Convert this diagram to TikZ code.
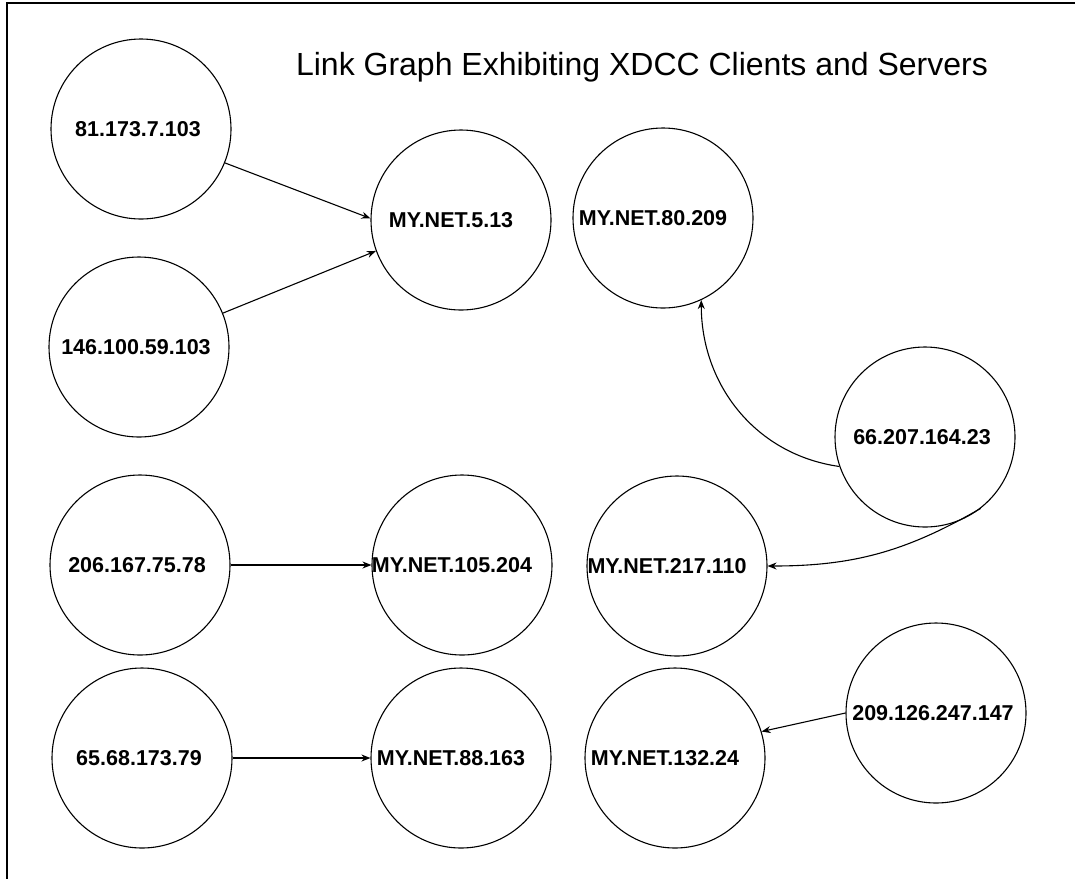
\documentclass[tikz,border=0pt]{standalone}
\usepackage{fontspec}
\setmainfont{Liberation Sans}
\usetikzlibrary{arrows.meta}

\begin{document}
\begin{tikzpicture}[x=1pt,y=1pt,
	host/.style={circle,draw,line width=1.1pt,minimum size=180pt,inner sep=0pt},
	netlbl/.style={font=\fontsize{21.5}{25}\selectfont\bfseries,inner sep=0pt,xshift=-10pt},
	iplbl/.style={font=\fontsize{21.5}{25}\selectfont\bfseries,inner sep=0pt,xshift=-3pt},
	link/.style={line width=1.1pt,-{Stealth[length=9pt,width=7pt]}}]
	\useasboundingbox (0,0) rectangle (1075,-879);
	\draw [line width=1.5pt] (1075,-3) -- (7,-3) -- (7,-879);
	\node [anchor=base,font=\fontsize{32}{38}\selectfont] (title) at (642,-75) {Link Graph Exhibiting XDCC Clients and Servers};
	% outside hosts
	\node [host,label={[iplbl]center:81.173.7.103}] (c81) at (141,-129) {};
	\node [host,label={[iplbl]center:146.100.59.103}] (c146) at (139,-347) {};
	\node [host,label={[iplbl]center:66.207.164.23}] (c66) at (925,-437) {};
	\node [host,label={[iplbl]center:206.167.75.78}] (c206) at (140,-565) {};
	\node [host,label={[iplbl]center:65.68.173.79}] (c65) at (142,-758) {};
	\node [host,label={[iplbl]center:209.126.247.147}] (c209) at (936,-713) {};
	% MY.NET hosts
	\node [host,label={[netlbl]center:MY.NET.5.13}] (s513) at (461,-220) {};
	\node [host,label={[netlbl]center:MY.NET.80.209}] (s80) at (663,-218) {};
	\node [host,label={[netlbl]center:MY.NET.105.204}] (s105) at (462,-565) {};
	\node [host,label={[netlbl]center:MY.NET.217.110}] (s217) at (677,-566) {};
	\node [host,label={[netlbl]center:MY.NET.88.163}] (s88) at (461,-758) {};
	\node [host,label={[netlbl]center:MY.NET.132.24}] (s132) at (675,-758) {};
	% links
	\draw [link] (c81.-22) -- (s513.179);
	\draw [link] (c146.22) -- (s513.200);
	\draw [link] (c206.east) -- (s105.west);
	\draw [link] (c65.east) -- (s88.west);
	\draw [link] (c209.west) -- (s132.17);
	\draw [link] (c66.-161) to [out=172,in=-90] (s80.-65);
	\draw [link] (c66.-52) to [out=-150,in=0] (s217.east);
\end{tikzpicture}
\end{document}
